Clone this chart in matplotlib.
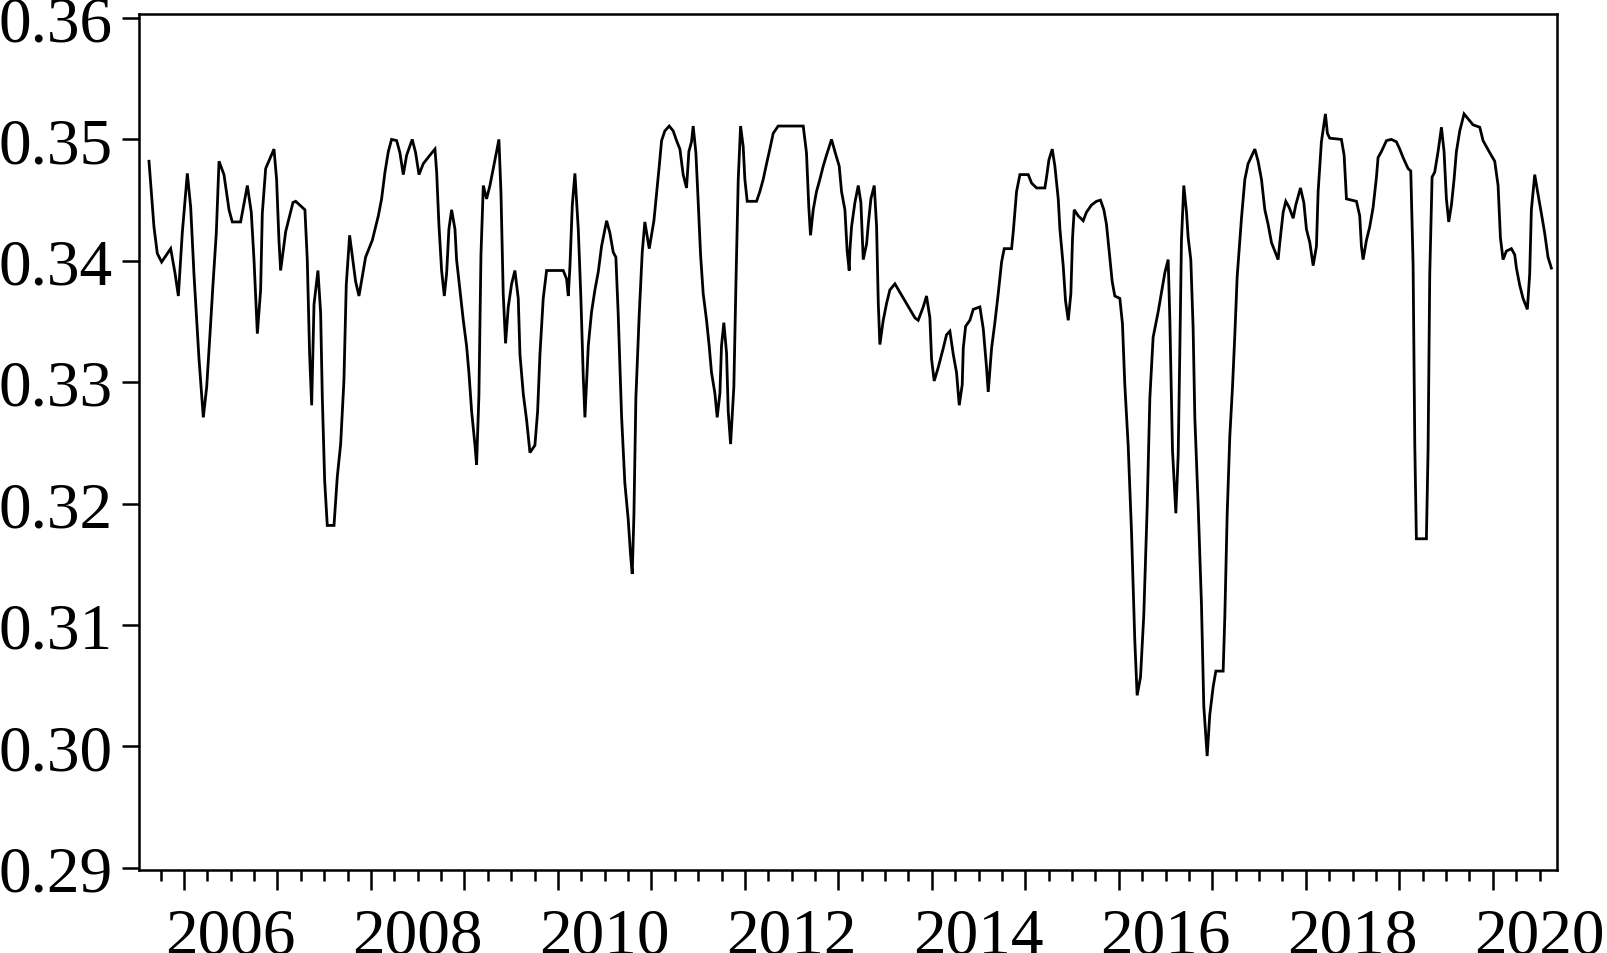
import numpy as np
import matplotlib
matplotlib.use("Agg")
import matplotlib.pyplot as plt
from matplotlib.ticker import FixedLocator, NullFormatter, FuncFormatter

# decimal-year dates and series values
dates = [
    2005.626, 2005.644, 2005.679, 2005.715, 2005.761, 2005.858, 2005.904, 2005.940, 2005.982, 2006.036,
    2006.072, 2006.107, 2006.161, 2006.207, 2006.243, 2006.278, 2006.310, 2006.346, 2006.375, 2006.428,
    2006.482, 2006.517, 2006.606, 2006.678, 2006.720, 2006.749, 2006.785, 2006.820, 2006.838, 2006.874,
    2006.963, 2006.991, 2007.016, 2007.034, 2007.088, 2007.166, 2007.195, 2007.294, 2007.319, 2007.344,
    2007.366, 2007.391, 2007.433, 2007.462, 2007.480, 2007.505, 2007.533, 2007.605, 2007.640, 2007.676,
    2007.711, 2007.736, 2007.772, 2007.836, 2007.872, 2007.943, 2008.015,
    2008.079, 2008.114, 2008.150, 2008.186, 2008.221, 2008.275, 2008.310, 2008.346, 2008.382, 2008.442,
    2008.478, 2008.514, 2008.560, 2008.631, 2008.685, 2008.703, 2008.727, 2008.756, 2008.785, 2008.810,
    2008.834, 2008.863, 2008.899, 2008.916, 2008.952, 2008.988, 2009.023, 2009.048, 2009.077, 2009.113,
    2009.130, 2009.155, 2009.177, 2009.202, 2009.237, 2009.273, 2009.309, 2009.344, 2009.369, 2009.391,
    2009.415, 2009.440, 2009.469, 2009.505, 2009.540, 2009.576, 2009.594, 2009.630, 2009.665, 2009.701,
    2009.754, 2009.783, 2009.808, 2009.843, 2009.879, 2010.057, 2010.093, 2010.111, 2010.129, 2010.154,
    2010.182, 2010.218, 2010.246, 2010.271, 2010.289, 2010.325, 2010.360, 2010.396, 2010.432, 2010.467,
    2010.521, 2010.556, 2010.592,
    2010.620, 2010.645, 2010.681, 2010.716, 2010.752, 2010.777, 2010.795, 2010.813, 2010.834, 2010.870,
    2010.902, 2010.930, 2010.977, 2011.027, 2011.084, 2011.109, 2011.144, 2011.191, 2011.233, 2011.269,
    2011.305, 2011.340, 2011.376, 2011.401, 2011.429, 2011.447, 2011.476, 2011.501, 2011.526, 2011.554,
    2011.590, 2011.618, 2011.643, 2011.679, 2011.704, 2011.733, 2011.750, 2011.775, 2011.804, 2011.822,
    2011.847, 2011.882, 2011.904, 2011.929, 2011.954, 2011.982, 2012.000, 2012.025, 2012.125, 2012.160,
    2012.196, 2012.232, 2012.267, 2012.303, 2012.356, 2012.624, 2012.659, 2012.684, 2012.702, 2012.731,
    2012.766, 2012.802, 2012.838, 2012.873, 2012.927, 2012.963, 2013.009, 2013.034, 2013.070, 2013.094,
    2013.116,
    2013.123, 2013.141, 2013.177, 2013.213, 2013.241, 2013.266, 2013.302, 2013.320, 2013.348, 2013.384,
    2013.409, 2013.427, 2013.444, 2013.480, 2013.516, 2013.551, 2013.605, 2013.712, 2013.819, 2013.854,
    2013.908, 2013.943, 2013.979, 2013.997, 2014.025, 2014.068, 2014.122, 2014.157, 2014.193, 2014.229,
    2014.264, 2014.293, 2014.325, 2014.336, 2014.361, 2014.407, 2014.443, 2014.514, 2014.550, 2014.585,
    2014.603, 2014.639, 2014.674, 2014.710, 2014.746, 2014.774, 2014.853, 2014.871, 2014.906, 2014.942,
    2015.031, 2015.067, 2015.120, 2015.209, 2015.227, 2015.252, 2015.288, 2015.316, 2015.352, 2015.370,
    2015.405, 2015.430, 2015.459, 2015.487, 2015.505, 2015.523, 2015.566, 2015.619,
    2015.654, 2015.708, 2015.761, 2015.804, 2015.840, 2015.868, 2015.897, 2015.929, 2015.957, 2016.011,
    2016.039, 2016.064, 2016.100, 2016.136, 2016.171, 2016.196, 2016.232, 2016.267, 2016.303, 2016.332,
    2016.367, 2016.421, 2016.456, 2016.492, 2016.528, 2016.546, 2016.574, 2016.610, 2016.635, 2016.653,
    2016.670, 2016.695, 2016.724, 2016.742, 2016.770, 2016.795, 2016.813, 2016.849, 2016.884, 2016.909,
    2016.945, 2016.973, 2017.009, 2017.038, 2017.116, 2017.134, 2017.159, 2017.187, 2017.216, 2017.241,
    2017.266, 2017.312, 2017.348, 2017.383, 2017.455, 2017.490, 2017.526, 2017.562, 2017.597, 2017.633,
    2017.704, 2017.722, 2017.758, 2017.786, 2017.822, 2017.865, 2017.893, 2017.943, 2017.979, 2018.007,
    2018.043, 2018.079, 2018.114, 2018.132,
    2018.167, 2018.210, 2018.231, 2018.256, 2018.381, 2018.410, 2018.435, 2018.542, 2018.577, 2018.595,
    2018.613, 2018.649, 2018.684, 2018.720, 2018.756, 2018.773, 2018.809, 2018.863, 2018.916, 2018.969,
    2019.005, 2019.041, 2019.094, 2019.123, 2019.148, 2019.166, 2019.183, 2019.290, 2019.308, 2019.326,
    2019.351, 2019.379, 2019.415, 2019.451, 2019.479, 2019.504, 2019.529, 2019.558, 2019.586, 2019.611,
    2019.647, 2019.693, 2019.736, 2019.789, 2019.861, 2019.896, 2019.932, 2019.968, 2020.021, 2020.057,
    2020.082, 2020.110, 2020.146, 2020.199, 2020.235, 2020.253, 2020.288, 2020.324, 2020.370, 2020.395,
    2020.413, 2020.449, 2020.477, 2020.520, 2020.555, 2020.591, 2020.627,
]

values = [
    0.3482, 0.3464, 0.3428, 0.3406, 0.3399, 0.3410, 0.3390, 0.3371, 0.3423, 0.3472,
    0.3444, 0.3389, 0.3319, 0.3271, 0.3296, 0.3339, 0.3380, 0.3423, 0.3482, 0.3471,
    0.3442, 0.3432, 0.3432, 0.3462, 0.3440, 0.3401, 0.3340, 0.3376, 0.3439, 0.3476,
    0.3492, 0.3467, 0.3417, 0.3392, 0.3424, 0.3448, 0.3449, 0.3442, 0.3401, 0.3323,
    0.3281, 0.3364, 0.3392, 0.3357, 0.3287, 0.3219, 0.3182, 0.3182, 0.3222, 0.3249,
    0.3301, 0.3380, 0.3421, 0.3383, 0.3371, 0.3403, 0.3417,
    0.3437, 0.3451, 0.3473, 0.3490, 0.3500, 0.3499, 0.3489, 0.3471, 0.3487, 0.3500,
    0.3489, 0.3471, 0.3480, 0.3487, 0.3492, 0.3473, 0.3430, 0.3392, 0.3371, 0.3390,
    0.3426, 0.3442, 0.3426, 0.3401, 0.3376, 0.3351, 0.3330, 0.3308, 0.3276, 0.3248,
    0.3232, 0.3289, 0.3405, 0.3462, 0.3451, 0.3462, 0.3476, 0.3490, 0.3500, 0.3456,
    0.3373, 0.3332, 0.3362, 0.3381, 0.3392, 0.3369, 0.3323, 0.3290, 0.3269, 0.3242,
    0.3248, 0.3276, 0.3323, 0.3369, 0.3392, 0.3392, 0.3385, 0.3371, 0.3396, 0.3446,
    0.3472, 0.3426, 0.3369, 0.3305, 0.3271, 0.3330, 0.3358, 0.3376, 0.3391, 0.3412,
    0.3433, 0.3423, 0.3407,
    0.3403, 0.3356, 0.3272, 0.3217, 0.3187, 0.3158, 0.3142, 0.3190, 0.3287, 0.3356,
    0.3407, 0.3432, 0.3410, 0.3433, 0.3478, 0.3499, 0.3507, 0.3511, 0.3507, 0.3499,
    0.3492, 0.3471, 0.3460, 0.3490, 0.3498, 0.3511, 0.3489, 0.3448, 0.3405, 0.3373,
    0.3351, 0.3330, 0.3308, 0.3291, 0.3271, 0.3291, 0.3330, 0.3349, 0.3324, 0.3276,
    0.3249, 0.3296, 0.3380, 0.3467, 0.3511, 0.3494, 0.3467, 0.3449, 0.3449, 0.3457,
    0.3467, 0.3480, 0.3492, 0.3505, 0.3511, 0.3511, 0.3489, 0.3444, 0.3421, 0.3442,
    0.3457, 0.3467, 0.3478, 0.3487, 0.3500, 0.3490, 0.3478, 0.3457, 0.3442, 0.3408,
    0.3392,
    0.3408, 0.3428, 0.3448, 0.3462, 0.3448, 0.3401, 0.3414, 0.3430, 0.3451, 0.3462,
    0.3428, 0.3365, 0.3331, 0.3351, 0.3365, 0.3376, 0.3381, 0.3367, 0.3353, 0.3351,
    0.3362, 0.3371, 0.3353, 0.3319, 0.3301, 0.3312, 0.3328, 0.3339, 0.3342, 0.3323,
    0.3308, 0.3281, 0.3298, 0.3328, 0.3346, 0.3351, 0.3360, 0.3362, 0.3344, 0.3312,
    0.3292, 0.3328, 0.3349, 0.3373, 0.3399, 0.3410, 0.3410, 0.3424, 0.3457, 0.3471,
    0.3471, 0.3464, 0.3460, 0.3460, 0.3469, 0.3483, 0.3492, 0.3478, 0.3451, 0.3426,
    0.3396, 0.3367, 0.3351, 0.3373, 0.3419, 0.3442, 0.3437, 0.3433,
    0.3440, 0.3446, 0.3449, 0.3450, 0.3442, 0.3430, 0.3408, 0.3383, 0.3371, 0.3369,
    0.3348, 0.3298, 0.3248, 0.3176, 0.3087, 0.3042, 0.3057, 0.3108, 0.3196, 0.3287,
    0.3337, 0.3358, 0.3374, 0.3390, 0.3401, 0.3351, 0.3244, 0.3192, 0.3240, 0.3328,
    0.3417, 0.3462, 0.3440, 0.3419, 0.3401, 0.3344, 0.3271, 0.3198, 0.3117, 0.3033,
    0.2992, 0.3026, 0.3049, 0.3062, 0.3062, 0.3107, 0.3191, 0.3255, 0.3296, 0.3339,
    0.3387, 0.3435, 0.3467, 0.3480, 0.3492, 0.3482, 0.3467, 0.3442, 0.3430, 0.3415,
    0.3401, 0.3415, 0.3440, 0.3449, 0.3444, 0.3435, 0.3446, 0.3460, 0.3448, 0.3426,
    0.3415, 0.3396, 0.3412, 0.3457,
    0.3498, 0.3521, 0.3505, 0.3501, 0.3500, 0.3487, 0.3451, 0.3449, 0.3437, 0.3412,
    0.3401, 0.3417, 0.3428, 0.3444, 0.3469, 0.3485, 0.3490, 0.3499, 0.3500, 0.3498,
    0.3492, 0.3485, 0.3476, 0.3474, 0.3396, 0.3248, 0.3171, 0.3171, 0.3244, 0.3389,
    0.3469, 0.3473, 0.3490, 0.3510, 0.3490, 0.3451, 0.3432, 0.3446, 0.3467, 0.3490,
    0.3507, 0.3521, 0.3517, 0.3512, 0.3510, 0.3499, 0.3494, 0.3489, 0.3482, 0.3462,
    0.3419, 0.3401, 0.3408, 0.3410, 0.3405, 0.3394, 0.3380, 0.3369, 0.3360, 0.3389,
    0.3442, 0.3471, 0.3458, 0.3439, 0.3423, 0.3403, 0.3394,
]

y_ticks = [0.29, 0.30, 0.31, 0.32, 0.33, 0.34, 0.35, 0.36]
year_ticks = list(range(2006, 2021))
label_years = [2006, 2008, 2010, 2012, 2014, 2016, 2018, 2020]

plt.rcParams['font.family'] = ['Liberation Serif', 'DejaVu Serif']

fig = plt.figure(figsize=(16.08, 9.54), dpi=100)
ax = fig.add_axes([0.08644, 0.08732, 0.88166, 0.89696])

ax.plot(np.array(dates), np.array(values), color='black', lw=2.0,
        solid_joinstyle='miter')

ax.set_xlim(2005.519, 2020.684)
ax.set_ylim(0.28984, 0.36033)

for s in ax.spines.values():
    s.set_linewidth(1.8)
    s.set_color('black')

# y axis
ax.set_yticks(y_ticks)
ax.set_yticklabels([f"{v:.2f}" for v in y_ticks])
ax.tick_params(axis='y', which='major', direction='out', length=12.2, width=1.8,
               pad=6.5, labelsize=47, right=False)

# x axis: long ticks at year starts, short ticks at quarters, labels mid-year
ax.xaxis.set_major_locator(FixedLocator(year_ticks))
ax.xaxis.set_major_formatter(NullFormatter())
quarters = [y + q / 4 for y in range(2005, 2021) for q in (1, 2, 3)
            if 2005.519 < y + q / 4 < 2020.684]
ax.xaxis.set_minor_locator(FixedLocator(quarters))


def minor_fmt(x, pos):
    yr = int(np.floor(x))
    if abs(x - yr - 0.5) < 1e-6 and yr in label_years:
        return str(yr)
    return ""


ax.xaxis.set_minor_formatter(FuncFormatter(minor_fmt))
ax.tick_params(axis='x', which='major', direction='out', length=14.4, width=1.8,
               top=False)
ax.tick_params(axis='x', which='minor', direction='out', length=8, width=1.8,
               pad=19, labelsize=47, top=False)

fig.savefig("out.png", dpi=100)
